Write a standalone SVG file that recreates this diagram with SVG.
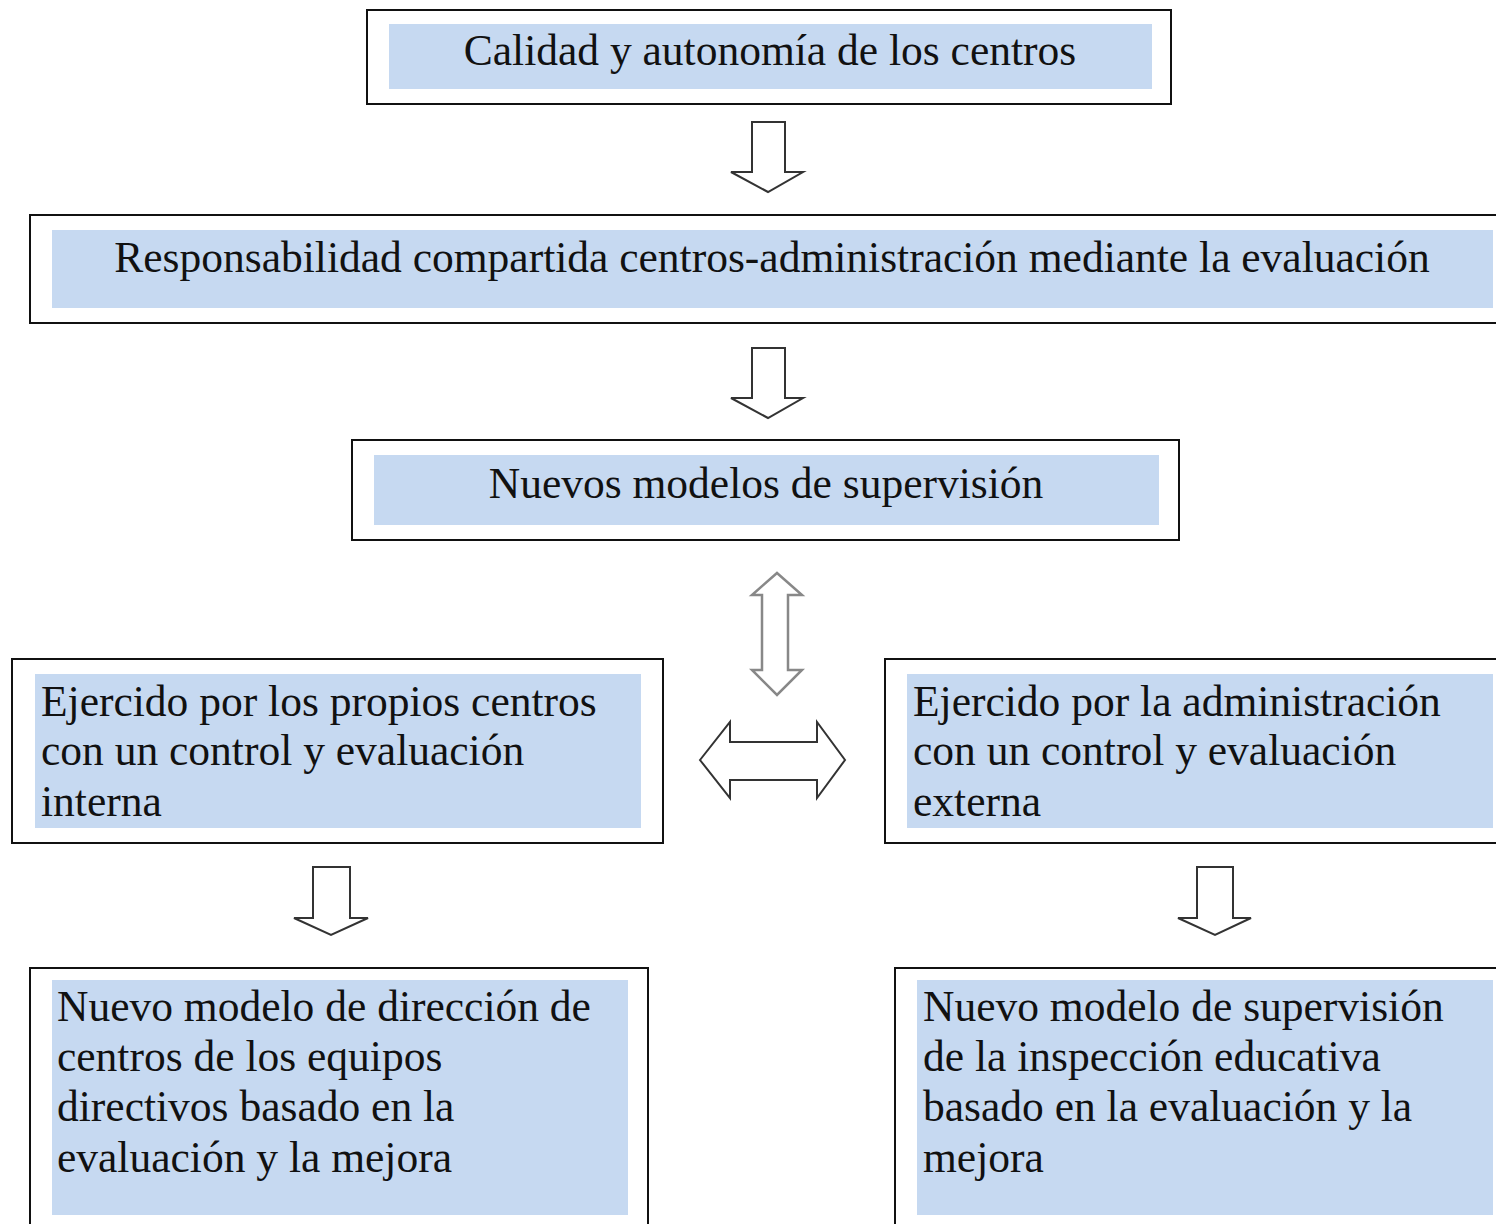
<svg xmlns="http://www.w3.org/2000/svg" width="1496" height="1224" viewBox="0 0 1496 1224">
<style>
.outer{fill:#fff;stroke:#111;stroke-width:2}
.inner{fill:#C6D9F1}
.t{font-family:"Liberation Serif","Times New Roman",serif;font-size:43.5px;fill:#111}
.arr{fill:#fff;stroke:#333;stroke-width:2;stroke-linejoin:miter}
.arr2{fill:#fff;stroke:#888;stroke-width:2.5}
</style>
<rect width="1496" height="1224" fill="#fff"/>
<g id="connectors">
<path class="arr" d="M752,122 H785 V172 H803 L768,192 L731,172 H752 Z"/>
<path class="arr" d="M752,348 H785 V398 H803 L768,418 L731,398 H752 Z"/>
<path class="arr2" d="M777,573 L802,595 H788 V670 H802 L777,695 L752,670 H762 V595 H752 Z"/>
<path class="arr" d="M700,760 L730,722 V742 H817 V722 L845,760 L817,798 V780 H730 V798 Z"/>
<path class="arr" d="M313,867 H350 V918 H368 L331,935 L294,918 H313 Z"/>
<path class="arr" d="M1197,867 H1233 V918 H1251 L1215,935 L1178,918 H1197 Z"/>
</g>
<g id="n1">
<rect class="outer" x="367" y="10" width="804" height="94"/>
<rect class="inner" x="389" y="24" width="763" height="65"/>
<text class="t" x="770" y="65" text-anchor="middle">Calidad y autonomía de los centros</text>
</g>
<g id="n2">
<rect class="outer" x="30" y="215" width="1490" height="108"/>
<rect class="inner" x="52" y="230" width="1441" height="78"/>
<text class="t" x="772" y="272" text-anchor="middle">Responsabilidad compartida centros-administración mediante la evaluación</text>
</g>
<g id="n3">
<rect class="outer" x="352" y="440" width="827" height="100"/>
<rect class="inner" x="374" y="455" width="785" height="70"/>
<text class="t" x="766" y="498" text-anchor="middle">Nuevos modelos de supervisión</text>
</g>
<g id="n4">
<rect class="outer" x="12" y="659" width="651" height="184"/>
<rect class="inner" x="35" y="674" width="606" height="154"/>
<text class="t" x="41" y="716">Ejercido por los propios centros</text>
<text class="t" x="41" y="765">con un control y evaluación</text>
<text class="t" x="41" y="816">interna</text>
</g>
<g id="n5">
<rect class="outer" x="885" y="659" width="640" height="184"/>
<rect class="inner" x="907" y="674" width="586" height="154"/>
<text class="t" x="913" y="716">Ejercido por la administración</text>
<text class="t" x="913" y="765">con un control y evaluación</text>
<text class="t" x="913" y="816">externa</text>
</g>
<g id="n6">
<rect class="outer" x="30" y="968" width="618" height="280"/>
<rect class="inner" x="52" y="980" width="576" height="235"/>
<text class="t" x="57" y="1021">Nuevo modelo de dirección de</text>
<text class="t" x="57" y="1071">centros de los equipos</text>
<text class="t" x="57" y="1121">directivos basado en la</text>
<text class="t" x="57" y="1172">evaluación y la mejora</text>
</g>
<g id="n7">
<rect class="outer" x="895" y="968" width="640" height="280"/>
<rect class="inner" x="917" y="980" width="576" height="235"/>
<text class="t" x="923" y="1021">Nuevo modelo de supervisión</text>
<text class="t" x="923" y="1071">de la inspección educativa</text>
<text class="t" x="923" y="1121">basado en la evaluación y la</text>
<text class="t" x="923" y="1172">mejora</text>
</g>
</svg>
